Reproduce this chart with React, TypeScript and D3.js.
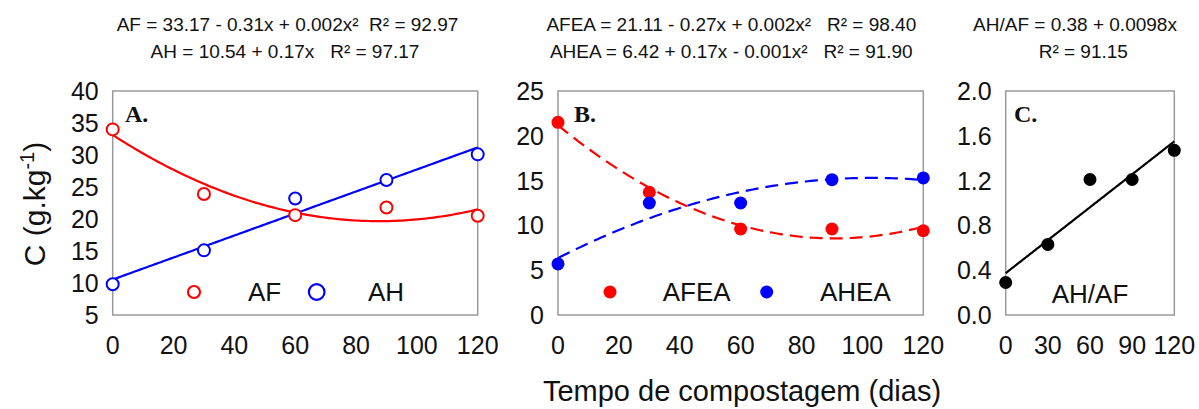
import React from "react";
import * as d3 from "d3";

// Composting time (days) at which samples were taken
const days = [0, 30, 60, 90, 120];

// Panel A: fulvic (AF) and humic (AH) acid carbon, g/kg
const afValues = [34.0, 23.9, 20.6, 21.8, 20.5];
const ahValues = [9.8, 15.1, 23.2, 26.1, 30.1];

// Panel B: easily-extractable fulvic (AFEA) and humic (AHEA) carbon, g/kg
const afeaValues = [21.5, 13.7, 9.6, 9.6, 9.4];
const aheaValues = [5.7, 12.5, 12.5, 15.1, 15.3];

// Panel C: humic / fulvic ratio
const ratioValues = [0.29, 0.63, 1.21, 1.21, 1.47];

const ticksA = [5, 10, 15, 20, 25, 30, 35, 40];
const ticksB = [0, 5, 10, 15, 20, 25];
const ticksC = [0, 0.4, 0.8, 1.2, 1.6, 2.0];
const xTicksAB = [0, 20, 40, 60, 80, 100, 120];
const xTicksC = [0, 30, 60, 90, 120];

const eqA = ["AF = 33.17 - 0.31x + 0.002x²  R² = 92.97", "AH = 10.54 + 0.17x   R² = 97.17"];
const eqB = ["AFEA = 21.11 - 0.27x + 0.002x²   R² = 98.40", "AHEA = 6.42 + 0.17x - 0.001x²   R² = 91.90"];
const eqC = ["AH/AF = 0.38 + 0.0098x", "R² = 91.15"];

const SANS = "'Liberation Sans', Arial, sans-serif";
const SERIF = "'Liberation Serif', 'Times New Roman', serif";

// Least-squares polynomial fit (normal equations, Gaussian elimination)
function polyFit(xs: number[], ys: number[], degree: number): number[] {
  const n = degree + 1;
  const A: number[][] = [];
  for (let i = 0; i < n; i++) {
    const row: number[] = [];
    for (let j = 0; j < n; j++) row.push(d3.sum(xs, (x) => Math.pow(x, i + j)));
    row.push(d3.sum(xs, (x, k) => Math.pow(x, i) * ys[k]));
    A.push(row);
  }
  for (let c = 0; c < n; c++) {
    let p = c;
    for (let r = c + 1; r < n; r++) if (Math.abs(A[r][c]) > Math.abs(A[p][c])) p = r;
    [A[c], A[p]] = [A[p], A[c]];
    for (let r = 0; r < n; r++) {
      if (r === c) continue;
      const f = A[r][c] / A[c][c];
      for (let k = c; k <= n; k++) A[r][k] -= f * A[c][k];
    }
  }
  return A.map((row, i) => row[n] / row[i]);
}

const evalPoly = (coef: number[], x: number) => coef.reduce((s, c, i) => s + c * Math.pow(x, i), 0);

type Series = {
  values: number[];
  color: string;
  filled: boolean;
  r: number;
  degree: number;
  dash?: string;
};

type LegendItem = { x: number; label: string; labelX: number; color: string; filled: boolean; r: number };

type PanelProps = {
  left: number;
  right: number;
  yDomain: [number, number];
  yTicks: number[];
  yFmt: (v: number) => string;
  xTicks: number[];
  letter: string;
  letterX: number;
  series: Series[];
  legend: LegendItem[];
  legendText?: { x: number; label: string };
  equations: { text: string; cx: number }[];
};

const TOP = 91;
const BOTTOM = 315;

function Panel(p: PanelProps) {
  const x = d3.scaleLinear().domain([0, 120]).range([p.left, p.right]);
  const y = d3.scaleLinear().domain(p.yDomain).range([BOTTOM, TOP]);
  const grid = d3.range(0, 120.5, 1);
  return (
    <g>
      {p.equations.map((e, i) => (
        <text
          key={i}
          x={e.cx}
          y={31 + i * 27}
          textAnchor="middle"
          fontFamily={SANS}
          fontSize={19}
          fill="#111"
          style={{ whiteSpace: "pre" }}
        >
          {e.text}
        </text>
      ))}
      <rect x={p.left} y={TOP} width={p.right - p.left} height={BOTTOM - TOP} fill="none" stroke="#9a9a9a" strokeWidth={1.5} />
      {p.yTicks.map((t) => (
        <text key={t} x={p.left - 14} y={y(t)} dy="0.36em" textAnchor="end" fontFamily={SANS} fontSize={25} fill="#111">
          {p.yFmt(t)}
        </text>
      ))}
      {p.xTicks.map((t) => (
        <text key={t} x={x(t)} y={354} textAnchor="middle" fontFamily={SANS} fontSize={25} fill="#111">
          {t}
        </text>
      ))}
      <text x={p.letterX} y={122} fontFamily={SERIF} fontWeight="bold" fontSize={24} fill="#111">
        {p.letter}
      </text>
      {p.series.map((s, i) => {
        const coef = polyFit(days, s.values, s.degree);
        const line = d3
          .line<number>()
          .x((d) => x(d))
          .y((d) => y(evalPoly(coef, d)));
        return (
          <path key={"l" + i} d={line(grid) || ""} fill="none" stroke={s.color} strokeWidth={2.2} strokeDasharray={s.dash} />
        );
      })}
      {p.series.map((s, i) =>
        s.values.map((v, j) => (
          <circle
            key={"p" + i + "-" + j}
            cx={x(days[j])}
            cy={y(v)}
            r={s.r}
            fill={s.filled ? s.color : "white"}
            stroke={s.color}
            strokeWidth={s.filled ? 0 : 2}
          />
        ))
      )}
      {p.legend.map((l, i) => (
        <g key={"lg" + i}>
          <circle cx={l.x} cy={292} r={l.r} fill={l.filled ? l.color : "none"} stroke={l.color} strokeWidth={l.filled ? 0 : 2.2} />
          <text x={l.labelX} y={301} fontFamily={SANS} fontSize={26} fill="#111">
            {l.label}
          </text>
        </g>
      ))}
      {p.legendText && (
        <text x={p.legendText.x} y={303} textAnchor="middle" fontFamily={SANS} fontSize={26} fill="#111">
          {p.legendText.label}
        </text>
      )}
    </g>
  );
}

export default function App() {
  const RED = "#ff0000";
  const BLUE = "#0000ff";
  return (
    <svg width={1199} height={409} style={{ position: "absolute", left: 0, top: 0, background: "white" }}>
      <rect width={1199} height={409} fill="white" />
      <Panel
        left={112.7}
        right={477.7}
        yDomain={[5, 40]}
        yTicks={ticksA}
        yFmt={(v) => String(v)}
        xTicks={xTicksAB}
        letter="A."
        letterX={125}
        series={[
          { values: afValues, color: RED, filled: false, r: 6, degree: 2 },
          { values: ahValues, color: BLUE, filled: false, r: 6, degree: 1 },
        ]}
        legend={[
          { x: 194, label: "AF", labelX: 248, color: RED, filled: false, r: 6 },
          { x: 316.7, label: "AH", labelX: 368, color: BLUE, filled: false, r: 7.8 },
        ]}
        equations={[
          { text: eqA[0], cx: 287.5 },
          { text: eqA[1], cx: 285 },
        ]}
      />
      <Panel
        left={558}
        right={923.3}
        yDomain={[0, 25]}
        yTicks={ticksB}
        yFmt={(v) => String(v)}
        xTicks={xTicksAB}
        letter="B."
        letterX={574}
        series={[
          { values: afeaValues, color: RED, filled: true, r: 6.5, degree: 2, dash: "13,7" },
          { values: aheaValues, color: BLUE, filled: true, r: 6.5, degree: 2, dash: "13,7" },
        ]}
        legend={[
          { x: 610, label: "AFEA", labelX: 662.7, color: RED, filled: true, r: 6.5 },
          { x: 766.7, label: "AHEA", labelX: 820, color: BLUE, filled: true, r: 6.5 },
        ]}
        equations={[
          { text: eqB[0], cx: 731.3 },
          { text: eqB[1], cx: 731.3 },
        ]}
      />
      <Panel
        left={1005.7}
        right={1174.3}
        yDomain={[0, 2]}
        yTicks={ticksC}
        yFmt={(v) => v.toFixed(1)}
        xTicks={xTicksC}
        letter="C."
        letterX={1014}
        series={[{ values: ratioValues, color: "#000000", filled: true, r: 6.5, degree: 1 }]}
        legend={[]}
        legendText={{ x: 1090, label: "AH/AF" }}
        equations={[
          { text: eqC[0], cx: 1075 },
          { text: eqC[1], cx: 1083.3 },
        ]}
      />
      <text
        transform="translate(45,204) rotate(-90)"
        textAnchor="middle"
        fontFamily={SANS}
        fontSize={30}
        fill="#111"
      >
        C (g.kg
        <tspan fontSize={20} dy={-11}>
          -1
        </tspan>
        <tspan dy={11}>)</tspan>
      </text>
      <text x={742} y={401} textAnchor="middle" fontFamily={SANS} fontSize={29} fill="#111">
        Tempo de compostagem (dias)
      </text>
    </svg>
  );
}
